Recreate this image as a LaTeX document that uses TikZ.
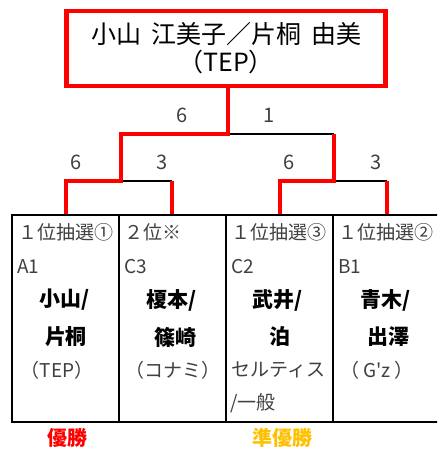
\documentclass[tikz,border=0pt]{standalone}
\usepackage{fontspec}
\setmainfont{Noto Sans CJK JP}[Ligatures=TeXOff]
\definecolor{txtgray}{HTML}{404040}
\definecolor{winred}{HTML}{FF0000}
\definecolor{runnerup}{HTML}{FFC000}
\tikzset{
  titlebox/.style={draw=winred, line width=4.5pt, minimum width=319pt, minimum height=74.6pt, inner sep=0pt, align=center, font=\fontsize{25}{28}\selectfont},
  cellbox/.style={draw=black, line width=1.5pt, minimum width=107pt, minimum height=207pt, inner sep=0pt},
  redline/.style={draw=winred, line width=4.5pt, line join=miter},
  blackline/.style={draw=black, line width=1.5pt},
  scoretxt/.style={text=txtgray, font=\fontsize{20}{22}\selectfont, inner sep=0pt},
  smalltxt/.style={text=txtgray, font=\fontsize{19}{21}\selectfont, inner sep=0pt, anchor=west},
  smallctr/.style={text=txtgray, font=\fontsize{19}{21}\selectfont, inner sep=0pt},
  playername/.style={text=black, font=\bfseries\fontsize{21}{23}\selectfont, inner sep=0pt},
  resulttxt/.style={font=\bfseries\fontsize{20}{22}\selectfont, inner sep=0pt}
}
\begin{document}
\begin{tikzpicture}[x=1pt,y=-1pt]
\clip (0,0) rectangle (437,450);
\useasboundingbox (0,0) rectangle (437,450);
\fill[white] (0,0) rectangle (437,450);
% cells
\node[cellbox] (c1) at (65.5,318.5) {};
\node[cellbox] (c2) at (172.5,318.5) {};
\node[cellbox] (c3) at (279.5,318.5) {};
\node[cellbox] (c4) at (386.5,318.5) {};
% title
\node[titlebox] (title) at (226.2,48.5) {小山\hspace{0.4em}江美子／片桐\hspace{0.4em}由美\\（TEP）};
% junctions
\coordinate (t0) at (228,86);
\coordinate (j0) at (228,134);
\coordinate (jl) at (121,134);
\coordinate (jr) at (334,134);
\coordinate (jl2) at (121,181);
\coordinate (jr2) at (334,181);
\coordinate (a1) at (66,181);
\coordinate (a2) at (172,181);
\coordinate (a3) at (280,181);
\coordinate (a4) at (387,181);
% black lines
\draw[blackline] (j0) -- (jr);
\draw[blackline] (jl2) -- (a2);
\draw[blackline] (jr2) -- (a4);
% red lines
\draw[redline] (t0) -- (j0) -- (jl) -- (jl2) -- (a1) -- (a1 |- c1.north);
\draw[redline] (a2) -- (a2 |- c2.north);
\draw[redline] (jr) -- (jr2) -- (a3) -- (a3 |- c3.north);
\draw[redline] (a4) -- (a4 |- c4.north);
% scores
\node[scoretxt] (s0l) at (182,115) {6};
\node[scoretxt] (s0r) at (269,115) {1};
\node[scoretxt] (s1) at (76,162) {6};
\node[scoretxt] (s2) at (162,162) {3};
\node[scoretxt] (s3) at (289,162) {6};
\node[scoretxt] (s4) at (376,162) {3};
% cell 1
\node[smalltxt] (p1) at (18,232) {１位抽選①};
\node[smalltxt] (g1) at (17,267) {A1};
\node[playername] (n1a) at (65,300) {小山/};
\node[playername] (n1b) at (66,337) {片桐};
\node[smallctr] (t1) at (57,370) {（TEP）};
% cell 2
\node[smalltxt] (p2) at (124,232) {２位※};
\node[smalltxt] (g2) at (124,267) {C3};
\node[playername] (n2a) at (172,300) {榎本/};
\node[playername] (n2b) at (175,337) {篠崎};
\node[smallctr] (t2) at (173,370) {（コナミ）};
% cell 3
\node[smalltxt] (p3) at (231,232) {１位抽選③};
\node[smalltxt] (g3) at (231,267) {C2};
\node[playername] (n3a) at (278,300) {武井/};
\node[playername] (n3b) at (280,337) {泊};
\node[smalltxt] (t3) at (231,370) {セルティス};
\node[smalltxt] (t3b) at (230,403) {/一般};
% cell 4
\node[smalltxt] (p4) at (338,232) {１位抽選②};
\node[smalltxt] (g4) at (338,267) {B1};
\node[playername] (n4a) at (386,300) {青木/};
\node[playername] (n4b) at (388,337) {出澤};
\node[smallctr] (t4) at (377,370) {（ G'z ）};
% results
\node[resulttxt, text=winred] (win) at (67,438) {優勝};
\node[resulttxt, text=runnerup] (second) at (282,438) {準優勝};
\end{tikzpicture}
\end{document}
